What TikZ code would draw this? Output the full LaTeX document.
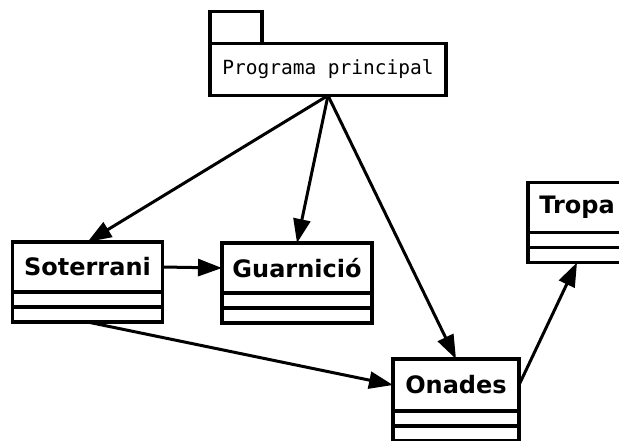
\documentclass[tikz,border=0pt]{standalone}
\usepackage{fontspec}
\usepackage{tikz}
\usetikzlibrary{arrows.meta,positioning}
\newfontfamily\classfont{DejaVu Sans}
\newfontfamily\pkgfont{DejaVu Sans Mono}

\begin{document}
\begin{tikzpicture}[
  x=1pt,y=-1pt,
  cls/.style={draw=black,fill=white,line width=3.4pt,outer sep=0pt,inner sep=0pt,minimum height=50pt,font=\classfont\bfseries\fontsize{24}{28}\selectfont},
  comp/.style={draw=black,fill=white,line width=3.4pt,outer sep=0pt,inner sep=0pt,minimum height=15pt},
  pkg/.style={draw=black,fill=white,line width=3.4pt,outer sep=0pt,inner sep=0pt,minimum width=236pt,minimum height=52pt,font=\pkgfont\fontsize{19.5}{22}\selectfont},
  tab/.style={draw=black,fill=white,line width=3.4pt,outer sep=0pt,inner sep=0pt,minimum width=52pt,minimum height=32pt},
  arr/.style={-{Triangle[length=24pt,width=17pt]},draw=black,line width=3pt},
]
\useasboundingbox (0,0) rectangle (619,440);

% package
\node[pkg] (programa) at (328,69.5) {Programa principal};
\node[tab, above right=0pt and 0pt of programa.north west] (tab) {};

% classes
\node[cls, minimum width=150pt] (soterrani) at (87.5,267) {Soterrani};
\node[comp, minimum width=150pt, below=0pt of soterrani] (soterrani-a) {};
\node[comp, minimum width=150pt, below=0pt of soterrani-a] (soterrani-o) {};

\node[cls, minimum width=150pt] (guarnicio) at (297,268) {Guarnició};
\node[comp, minimum width=150pt, below=0pt of guarnicio] (guarnicio-a) {};
\node[comp, minimum width=150pt, below=0pt of guarnicio-a] (guarnicio-o) {};

\node[cls, minimum width=126pt, minimum height=52pt] (onades) at (456,385) {Onades};
\node[comp, minimum width=126pt, below=0pt of onades] (onades-a) {};
\node[comp, minimum width=126pt, below=0pt of onades-a] (onades-o) {};

\node[cls, minimum width=98pt] (tropa) at (577,207.5) {Tropa};
\node[comp, minimum width=98pt, below=0pt of tropa] (tropa-a) {};
\node[comp, minimum width=98pt, below=0pt of tropa-a] (tropa-o) {};

\draw[arr] (programa.south) -- (soterrani.north);
\draw[arr] (programa.south) -- (guarnicio.north);
\draw[arr] (programa.south) -- (onades.north);
\draw[arr] (soterrani.east) -- (guarnicio.west);
\draw[arr] (soterrani-o.south) -- (onades.west);
\draw[arr] (onades.east) -- (tropa-o.south);
\end{tikzpicture}
\end{document}
